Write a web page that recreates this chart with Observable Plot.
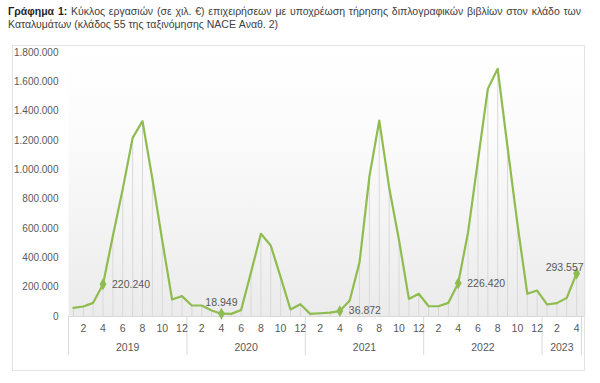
<!DOCTYPE html>
<html>
<head>
<meta charset="utf-8">
<script src="https://cdn.jsdelivr.net/npm/d3@7"></script>
<script src="https://cdn.jsdelivr.net/npm/@observablehq/plot@0.6"></script>
<style>
  html, body { margin: 0; padding: 0; background: #fff; }
  body { width: 600px; height: 383px; overflow: hidden; font-family: "Liberation Sans Narrow", "Liberation Sans", sans-serif; }
  #title { height: 35px; box-sizing: border-box; padding: 5px 0 0 8px; width: 600px; font-size: 10.5px; line-height: 13px; color: #404040; }
  #title .l1 { display: block; white-space: nowrap; word-spacing: 0.9px; }
  #title b { color: #1f1f1f; }
</style>
</head>
<body>
<div id="title"><span class="l1"><b>Γράφημα 1:</b> Κύκλος εργασιών (σε χιλ. €) επιχειρήσεων με υποχρέωση τήρησης διπλογραφικών βιβλίων στον κλάδο των</span>Καταλυμάτων (κλάδος 55 της ταξινόμησης NACE Αναθ. 2)</div>
<div id="chart"></div>
<script>
const years = ["2019", "2020", "2021", "2022", "2023"];
const monthsPerYear = [12, 12, 12, 12, 4];
const v2019 = [59000, 68000, 93000, 220240, 550000, 870000, 1218000, 1332000, 939000, 518000, 116000, 139000];
const v2020 = [75000, 75000, 41000, 18949, 18000, 45000, 302000, 564000, 484000, 268000, 48000, 84000];
const v2021 = [18000, 22000, 27000, 36872, 109000, 370000, 955000, 1336000, 880000, 520000, 120000, 155000];
const v2022 = [70000, 70000, 93000, 226420, 575000, 1064000, 1552000, 1689000, 1154000, 632000, 155000, 177000];
const v2023 = [82000, 91000, 127000, 293557];
const yTicks = [0, 200000, 400000, 600000, 800000, 1000000, 1200000, 1400000, 1600000, 1800000];
const monthTickLabels = [2, 4, 6, 8, 10, 12];
const annotated = [
  {year: "2019", month: 4, pos: "right"},
  {year: "2020", month: 4, pos: "top"},
  {year: "2021", month: 4, pos: "right"},
  {year: "2022", month: 4, pos: "right"},
  {year: "2023", month: 4, pos: "topleft"}
];

const series = [v2019, v2020, v2021, v2022, v2023];
const data = [];
series.forEach((vals, yi) => vals.forEach((v, mi) => data.push({year: years[yi], month: mi + 1, idx: data.length, value: v})));
const pt = d => d.idx + 0.5;

const yearStarts = [];
let acc = 0;
monthsPerYear.forEach(n => { yearStarts.push(acc); acc += n; });
const separators = [...yearStarts, acc];
const yearLabels = years.map((y, i) => ({year: y, x: yearStarts[i] + monthsPerYear[i] / 2}));
const monthLabels = data.filter(d => monthTickLabels.includes(d.month));
const fmt = v => d3.format(",")(v).replace(/,/g, ".");
const ann = annotated.map(a => ({...data.find(d => d.year === a.year && d.month === a.month), pos: a.pos}));

const green = "#8fbc4f";
const grey = "#595959";
const font = "Liberation Sans Narrow, Liberation Sans, sans-serif";

const plot = Plot.plot({
  width: 600,
  height: 348,
  marginLeft: 68,
  marginRight: 15,
  marginTop: 10,
  marginBottom: 67,
  style: {fontFamily: font, fontSize: "10px", color: grey, background: "transparent"},
  x: {domain: [0, 52.4], axis: null},
  y: {domain: [0, 1847700], ticks: yTicks, tickFormat: fmt, tickSize: 0, tickPadding: 10, label: null},
  marks: [
    Plot.frame({fill: "url(#bggrad)", stroke: null}),
    Plot.ruleX(data, {x: pt, y1: 0, y2: "value", stroke: "#d9d9d9", strokeWidth: 1}),
    Plot.ruleY([0], {stroke: "#d9d9d9", strokeWidth: 1}),
    Plot.ruleX(separators, {x: d => d, y1: 0, y2: 0, insetBottom: -39, stroke: "#d9d9d9", strokeWidth: 1}),
    Plot.text(monthLabels, {x: pt, y: 0, dy: 12, text: d => String(d.month), fill: grey, fontSize: 10.5}),
    Plot.text(yearLabels, {x: "x", y: 0, dy: 31, text: "year", fill: grey, fontSize: 10.5}),
    Plot.line(data, {x: pt, y: "value", stroke: green, strokeWidth: 2.2, strokeLinejoin: "round"}),
    Plot.dot(ann, {x: pt, y: "value", symbol: "diamond", r: 3.6, fill: green, stroke: null}),
    Plot.text(ann.filter(d => d.pos === "right"), {x: pt, y: "value", text: d => fmt(d.value), textAnchor: "start", dx: 9, fill: grey, fontSize: 10.5}),
    Plot.text(ann.filter(d => d.pos === "top"), {x: pt, y: "value", text: d => fmt(d.value), dy: -11, fill: grey, fontSize: 10.5}),
    Plot.text(ann.filter(d => d.pos === "topleft"), {x: pt, y: "value", text: d => fmt(d.value), textAnchor: "end", dx: 7, dy: -6, fill: grey, fontSize: 10.5})
  ]
});

const ns = "http://www.w3.org/2000/svg";
const defs = document.createElementNS(ns, "defs");
defs.innerHTML = '<linearGradient id="bggrad" x1="0" y1="0" x2="0" y2="1"><stop offset="0" stop-color="#ffffff"/><stop offset="0.35" stop-color="#fbfbfb"/><stop offset="1" stop-color="#ebebeb"/></linearGradient>';
plot.insertBefore(defs, plot.firstChild);
const border = document.createElementNS(ns, "rect");
border.setAttribute("x", 12.5); border.setAttribute("y", 10.5);
border.setAttribute("width", 572); border.setAttribute("height", 325);
border.setAttribute("fill", "none"); border.setAttribute("stroke", "#e3e3e3");
plot.appendChild(border);
document.getElementById("chart").appendChild(plot);
</script>
</body>
</html>
